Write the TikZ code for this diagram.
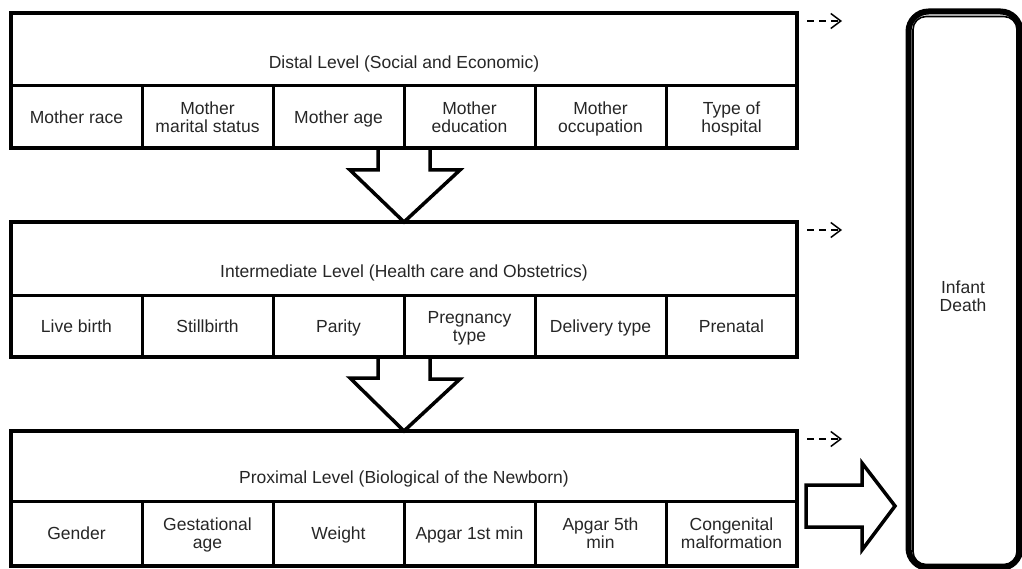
\documentclass[tikz,border=0pt]{standalone}
\usepackage{fontspec}
\setmainfont{Liberation Sans}
\usetikzlibrary{arrows.meta,calc}
\definecolor{txt}{HTML}{262626}
\newcommand\onel[1]{\rule{0pt}{12.5pt}\smash{#1}}
\newcommand\twol[2]{\rule{0pt}{12.5pt}\smash{#1}\\\smash{#2}}
\begin{document}
\begin{tikzpicture}[x=1pt,y=-1pt,
  lbl/.style={font=\fontsize{17.5}{18}\selectfont,text=txt,align=center,inner sep=0pt},
  cell/.style={lbl,draw=black,line width=3pt,minimum width=131pt},
  frame/.style={draw=black,line width=4pt,minimum width=786pt,minimum height=135pt,inner sep=0pt},
  bigarrow/.style={draw=black,fill=white,line width=3.5pt,line join=miter},
  dasharrow/.style={line width=1.5pt,dash pattern=on 7pt off 5pt,-{Straight Barb[length=10pt,width=15pt,line width=1.5pt]}}]
\useasboundingbox (0,0) rectangle (1022,569);

% ---- level frames (positions only, drawn later)
\coordinate (distc) at (404,80.5);
\coordinate (interc) at (404,289.5);
\coordinate (proxc) at (404,498.5);

% ---- big down arrows (drawn first so the box lines stay on top)
\filldraw[bigarrow] (378,148) -- ++(0,22) -- ++(-28,0) -- (404,222)
  -- ++(56,-52) -- ++(-30,0) -- ++(0,-22);
\filldraw[bigarrow] (378,357) -- ++(0,21) -- ++(-28,0) -- (404,431)
  -- ++(56,-52) -- ++(-30,0) -- ++(0,-21);

% ---- Distal level
\node[cell,minimum height=62pt] (d1) at (76.5,117) {\onel{Mother race}};
\node[cell,minimum height=62pt] (d2) at (207.5,117) {\twol{Mother}{marital status}};
\node[cell,minimum height=62pt] (d3) at (338.5,117) {\onel{Mother age}};
\node[cell,minimum height=62pt] (d4) at (469.5,117) {\twol{Mother}{education}};
\node[cell,minimum height=62pt] (d5) at (600.5,117) {\twol{Mother}{occupation}};
\node[cell,minimum height=62pt] (d6) at (731.5,117) {\twol{Type of}{hospital}};
\node[frame] (dist) at (distc) {};
\node[lbl] (distt) at (404,62.75) {\onel{Distal Level (Social and Economic)}};

% ---- Intermediate level
\node[cell,minimum height=62pt] (i1) at (76.5,326) {\onel{Live birth}};
\node[cell,minimum height=62pt] (i2) at (207.5,326) {\onel{Stillbirth}};
\node[cell,minimum height=62pt] (i3) at (338.5,326) {\onel{Parity}};
\node[cell,minimum height=62pt] (i4) at (469.5,326) {\twol{Pregnancy}{type}};
\node[cell,minimum height=62pt] (i5) at (600.5,326) {\onel{Delivery type}};
\node[cell,minimum height=62pt] (i6) at (731.5,326) {\onel{Prenatal}};
\node[frame] (inter) at (interc) {};
\node[lbl] (intert) at (404,271) {\onel{Intermediate Level (Health care and Obstetrics)}};

% ---- Proximal level
\node[cell,minimum height=65pt] (p1) at (76.5,533.5) {\onel{Gender}};
\node[cell,minimum height=65pt] (p2) at (207.5,533.5) {\twol{Gestational}{age}};
\node[cell,minimum height=65pt] (p3) at (338.5,533.5) {\onel{Weight}};
\node[cell,minimum height=65pt] (p4) at (469.5,533.5) {\onel{Apgar 1st min}};
\node[cell,minimum height=65pt] (p5) at (600.5,533.5) {\twol{Apgar 5th}{min}};
\node[cell,minimum height=65pt] (p6) at (731.5,533.5) {\twol{Congenital}{malformation}};
\node[frame] (prox) at (proxc) {};
\node[lbl] (proxt) at (404,477) {\onel{Proximal Level (Biological of the Newborn)}};

% ---- Infant death box
\node[draw=black,line width=6pt,rounded corners=20pt,minimum width=112pt,minimum height=556.5pt,inner sep=0pt] (death) at (964.5,289.75) {};
\draw[line width=1.6pt,rounded corners=13pt] ($(death.north west)+(7.5,8)$) rectangle ($(death.south east)+(-6.5,-6.5)$);
\node[lbl] (deatht) at (963,296) {\twol{Infant}{Death}};

% ---- big right arrow
\coordinate (ra) at ($(prox.east)+(7,7.5)$);
\filldraw[bigarrow] ($(ra)+(0,-21)$) -- ++(56,0) -- ++(0,-22) -- ($(ra)+(89,0)$)
  -- ($(ra)+(56,44)$) -- ++(0,-23) -- ($(ra)+(0,21)$) -- cycle;

% ---- dashed arrows
\coordinate (e1) at ($(dist.north east)+(43,10)$);
\coordinate (e2) at ($(inter.north east)+(43,10)$);
\coordinate (e3) at ($(prox.north east)+(43,10)$);
\draw[dasharrow] ($(dist.north east)+(8,10)$) -- (e1);
\draw[dasharrow] ($(inter.north east)+(8,10)$) -- (e2);
\draw[dasharrow] ($(prox.north east)+(8,10)$) -- (e3);
\end{tikzpicture}
\end{document}
